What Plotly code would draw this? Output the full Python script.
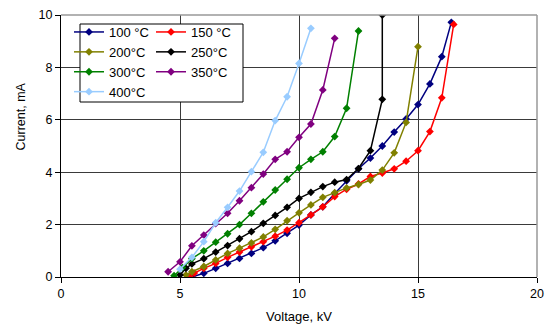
import plotly.graph_objects as go

# ---- data ----
names = ["100 °C", "150 °C", "200°C", "250°C", "300°C", "350°C", "400°C"]
colors = ["#000080", "#FF0000", "#808000", "#000000", "#008000", "#800080", "#99CCFF"]

v100 = [5.5, 6.0, 6.5, 7.0, 7.5, 8.0, 8.5, 9.0, 9.5, 10.0, 10.5, 11.0, 11.5, 12.0, 12.5, 13.0, 13.5, 14.0, 14.5, 15.0, 15.5, 16.0, 16.4]
i100 = [0.0, 0.14, 0.33, 0.52, 0.71, 0.9, 1.12, 1.38, 1.67, 1.98, 2.37, 2.68, 3.19, 3.67, 4.13, 4.54, 5.0, 5.53, 6.03, 6.58, 7.37, 8.41, 9.72]

v150 = [5.4, 5.6, 6.0, 6.5, 7.0, 7.5, 8.0, 8.5, 9.0, 9.5, 10.0, 10.5, 11.0, 11.5, 12.0, 12.5, 13.0, 13.5, 14.0, 14.5, 15.0, 15.5, 16.0, 16.5]
i150 = [0.02, 0.15, 0.33, 0.52, 0.75, 0.95, 1.15, 1.35, 1.56, 1.79, 2.07, 2.37, 2.68, 3.07, 3.35, 3.55, 3.84, 3.97, 4.13, 4.42, 4.82, 5.55, 6.84, 9.64]

v200 = [5.25, 5.5, 6.0, 6.5, 7.0, 7.5, 8.0, 8.5, 9.0, 9.5, 10.0, 10.5, 11.0, 11.5, 12.0, 12.5, 13.0, 13.5, 14.0, 14.5, 15.0]
i200 = [0.08, 0.2, 0.4, 0.65, 0.9, 1.1, 1.3, 1.53, 1.82, 2.15, 2.45, 2.75, 3.04, 3.22, 3.4, 3.53, 3.7, 4.08, 4.74, 5.9, 8.79]

v250 = [5.0, 5.25, 5.5, 6.0, 6.5, 7.0, 7.5, 8.0, 8.5, 9.0, 9.5, 10.0, 10.5, 11.0, 11.5, 12.0, 12.5, 13.0, 13.5, 13.5]
i250 = [0.08, 0.33, 0.5, 0.7, 0.95, 1.2, 1.46, 1.73, 2.05, 2.35, 2.66, 3.0, 3.23, 3.45, 3.62, 3.72, 4.14, 4.82, 6.78, 10.0]

v300 = [4.75, 5.1, 5.5, 6.0, 6.5, 7.0, 7.5, 8.0, 8.5, 9.0, 9.5, 10.0, 10.5, 11.0, 11.5, 12.0, 12.5]
i300 = [0.05, 0.36, 0.7, 1.0, 1.33, 1.65, 2.0, 2.43, 2.87, 3.32, 3.73, 4.17, 4.49, 4.78, 5.36, 6.44, 9.39]

v350 = [4.5, 5.0, 5.5, 6.0, 6.5, 7.0, 7.5, 8.0, 8.5, 9.0, 9.5, 10.0, 10.5, 11.0, 11.5]
i350 = [0.2, 0.58, 1.19, 1.6, 2.04, 2.43, 2.91, 3.41, 3.93, 4.49, 4.78, 5.33, 5.84, 7.14, 9.11]

v400 = [5.0, 5.5, 6.0, 6.5, 7.0, 7.5, 8.0, 8.5, 9.0, 9.5, 10.0, 10.5]
i400 = [0.3, 0.75, 1.35, 2.07, 2.66, 3.28, 4.02, 4.76, 5.97, 6.88, 8.15, 9.49]

xs = [v100, v150, v200, v250, v300, v350, v400]
ys = [i100, i150, i200, i250, i300, i350, i400]
legend_of = ["legend", "legend2", "legend", "legend2", "legend", "legend2", "legend"]

x_ticks = [0, 5, 10, 15, 20]
y_ticks = [0, 2, 4, 6, 8, 10]
x_title = "Voltage, kV"
y_title = "Current, mA"

FONT = "Liberation Sans, Arial, sans-serif"
PW, PH = 476, 262  # plot area size in px

fig = go.Figure()
for n, c, x, y, lg in zip(names, colors, xs, ys, legend_of):
    fig.add_trace(go.Scatter(
        x=x, y=y, name=n, mode="lines+markers",
        line=dict(color=c, width=1.5),
        marker=dict(symbol="diamond", size=6, color=c),
        legend=lg,
    ))

leg_common = dict(xanchor="left", yanchor="top", bgcolor="rgba(0,0,0,0)",
                  borderwidth=0, itemwidth=30, tracegroupgap=0,
                  font=dict(family=FONT, size=13))

fig.update_layout(
    width=553, height=326,
    margin=dict(l=61, r=16, t=15, b=49, autoexpand=False),
    paper_bgcolor="white", plot_bgcolor="white",
    font=dict(family=FONT, size=12.5, color="black"),
    legend=dict(x=(69-61)/PW, y=(277-17)/PH, **leg_common),
    legend2=dict(x=(151-61)/PW, y=(277-17)/PH, **leg_common),
    xaxis=dict(range=[0, 20], tickvals=x_ticks, ticktext=[str(t) for t in x_ticks],
               showgrid=True, gridcolor="#3a3a3a", gridwidth=1,
               showline=True, linecolor="black", linewidth=1,
               ticks="outside", ticklen=5, tickcolor="black", automargin=False,
               zeroline=False,
               title=dict(text=x_title, standoff=11, font=dict(size=13)),
               tickfont=dict(size=12.5)),
    yaxis=dict(range=[0, 10], tickvals=y_ticks, ticktext=[str(t) for t in y_ticks],
               showgrid=True, gridcolor="#3a3a3a", gridwidth=1,
               showline=True, linecolor="black", linewidth=1,
               ticks="outside", ticklen=5, tickcolor="black", automargin=False,
               zeroline=False, tickfont=dict(size=12.5)),
    annotations=[
        dict(text=y_title, textangle=-90, showarrow=False,
             xref="paper", yref="paper", x=(20.5-61)/PW, y=(277-117)/PH,
             xanchor="center", yanchor="middle", font=dict(size=12.5)),
    ],
    shapes=[
        dict(type="line", xref="paper", yref="paper", x0=0, x1=1, y0=1, y1=1,
             line=dict(color="#999999", width=1.5)),
        dict(type="line", xref="paper", yref="paper", x0=1, x1=1, y0=0, y1=1,
             line=dict(color="#999999", width=1.5)),
        dict(type="rect", xref="paper", yref="paper",
             x0=(80-61)/PW, x1=(243-61)/PW, y0=(277-102)/PH, y1=(277-24)/PH,
             line=dict(color="black", width=1), fillcolor="white", layer="above"),
    ],
)

fig.write_html("out.html", config={"displayModeBar": False},
               post_script="document.body.style.margin='0';document.body.style.overflow='hidden';")
